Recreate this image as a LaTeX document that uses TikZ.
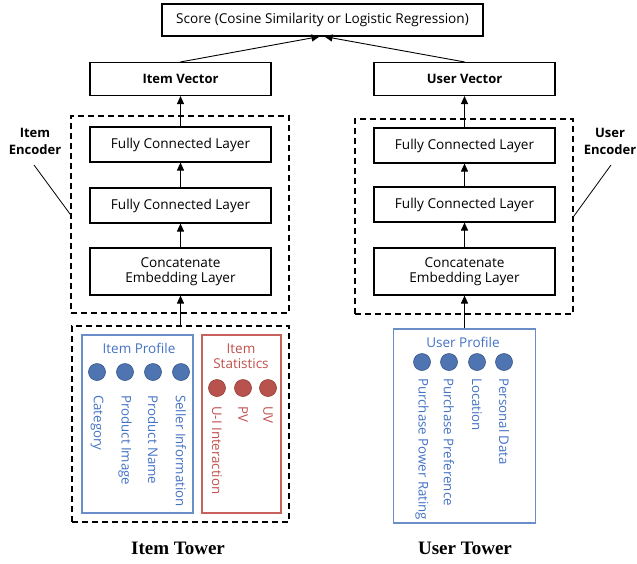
\documentclass[tikz,border=0pt]{standalone}
\usepackage{fontspec}
\setmainfont{Open Sans}
\newfontfamily\towerfont{Liberation Serif}
\usetikzlibrary{arrows.meta}
\definecolor{bluetxt}{RGB}{68,114,196}
\definecolor{blueline}{RGB}{108,142,200}
\definecolor{bluefill}{RGB}{79,116,178}
\definecolor{bluedark}{RGB}{55,85,135}
\definecolor{redtxt}{RGB}{192,80,77}
\definecolor{redline}{RGB}{200,96,92}
\definecolor{redfill}{RGB}{184,82,77}
\definecolor{reddark}{RGB}{150,60,55}
\tikzset{
  box/.style={draw=black, line width=1.1pt, fill=white, inner sep=0pt, minimum width=181pt, font=\fontsize{13.6}{15.5}\selectfont, align=center},
  dbox/.style={draw=black, line width=1.2pt, dash pattern=on 6pt off 4pt, inner sep=0pt},
  arr/.style={line width=0.9pt, -{Triangle[length=8pt,width=7pt]}},
  bdot/.style={circle, fill=bluefill, draw=bluedark, line width=0.6pt, minimum size=17pt, inner sep=0pt},
  rdot/.style={circle, fill=redfill, draw=reddark, line width=0.6pt, minimum size=17pt, inner sep=0pt},
  blab/.style={rotate=-90, anchor=west, inner sep=0pt, text=bluetxt, font=\fontsize{13.3}{15}\selectfont},
  rlab/.style={rotate=-90, anchor=west, inner sep=0pt, text=redtxt, font=\fontsize{13.3}{15}\selectfont},
  enclab/.style={align=center, font=\bfseries\fontsize{13}{17}\selectfont, inner sep=0pt},
  towerlab/.style={font=\towerfont\bfseries\fontsize{19}{22}\selectfont, inner sep=0pt}
}
\begin{document}
\begin{tikzpicture}[x=1pt,y=-1pt]
\useasboundingbox (0,0) rectangle (637,563);
% top score
\node[box, minimum width=321pt, minimum height=32pt] (score) at (322.5,20) {Score (Cosine Similarity or Logistic Regression)};
% item column
\node[box, minimum height=33pt, font=\bfseries\fontsize{13}{15.5}\selectfont] (iv) at (180.5,79) {Item Vector};
\node[dbox, minimum width=218pt, minimum height=197pt] (ienc) at (180,214.5) {};
\node[box, minimum height=35pt] (ifc1) at (180.5,144.5) {Fully Connected Layer};
\node[box, minimum height=35pt] (ifc2) at (180.5,205.5) {Fully Connected Layer};
\node[box, minimum height=47pt] (icat) at (180.5,271.5) {Concatenate\\Embedding Layer};
% user column
\node[box, minimum height=33pt, font=\bfseries\fontsize{13}{15.5}\selectfont] (uv) at (464.5,79) {User Vector};
\node[dbox, minimum width=218pt, minimum height=195pt] (uenc) at (464,216.5) {};
\node[box, minimum height=35pt] (ufc1) at (464.5,145.5) {Fully Connected Layer};
\node[box, minimum height=35pt] (ufc2) at (464.5,204.5) {Fully Connected Layer};
\node[box, minimum height=47pt] (ucat) at (464.5,271.5) {Concatenate\\Embedding Layer};
% encoder labels
\node[enclab] (ienclab) at (35,141) {Item\\Encoder};
\node[enclab] (uenclab) at (610,141) {User\\Encoder};
\coordinate (ils) at (34,165);
\coordinate (uls) at (611,165);
\draw[line width=0.8pt] (ils) -- (ienc.west);
\draw[line width=0.8pt] (uls) -- (uenc.east);
% item tower
\node[dbox, minimum width=217pt, minimum height=196pt] (itower) at (180.5,424) {};
\node[draw=blueline, line width=1.2pt, minimum width=111pt, minimum height=178pt, inner sep=0pt] (iprof) at (137.5,424) {};
\node[draw=redline, line width=1.2pt, minimum width=79pt, minimum height=178pt, inner sep=0pt] (istat) at (241.5,424) {};
\node[text=bluetxt, font=\fontsize{13.5}{15}\selectfont, inner sep=0pt] (iproft) at (139,348) {Item Profile};
\node[text=redtxt, font=\fontsize{13.5}{15}\selectfont, inner sep=0pt, align=center] (istatt) at (241,356) {Item\\Statistics};
\node[bdot] (ic1) at (97,372) {};
\node[bdot] (ic2) at (125,372) {};
\node[bdot] (ic3) at (153,372) {};
\node[bdot] (ic4) at (181,372) {};
\node[blab] at (97,395) {Category};
\node[blab] at (125,395) {Product Image};
\node[blab] at (153,395) {Product Name};
\node[blab] at (181,395) {Seller Information};
\node[rdot] (rc1) at (217,388) {};
\node[rdot] (rc2) at (243,388) {};
\node[rdot] (rc3) at (268,388) {};
\node[rlab] at (217,406) {U-I Interaction};
\node[rlab] at (243,406) {PV};
\node[rlab] at (268,406) {UV};
% user profile
\node[draw=blueline, line width=1.2pt, minimum width=142pt, minimum height=194pt, inner sep=0pt] (uprof) at (464.5,426) {};
\node[text=bluetxt, font=\fontsize{13.5}{15}\selectfont, inner sep=0pt] (uproft) at (463,342) {User Profile};
\node[bdot] (uc1) at (422,362) {};
\node[bdot] (uc2) at (449,362) {};
\node[bdot] (uc3) at (477,362) {};
\node[bdot] (uc4) at (504,362) {};
\node[blab] at (422,378) {Purchase Power Rating};
\node[blab] at (449,378) {Purchase Preference};
\node[blab] at (477,378) {Location};
\node[blab] at (504,378) {Personal Data};
% tower labels
\node[towerlab] (itl) at (178,548) {Item Tower};
\node[towerlab] (utl) at (465,548) {User Tower};
% arrows
\draw[arr] (ifc1.north) -- (iv.south);
\draw[arr] (ifc2.north) -- (ifc1.south);
\draw[arr] (icat.north) -- (ifc2.south);
\draw[arr] (itower.north) -- (icat.south);
\draw[arr] (ufc1.north) -- (uv.south);
\draw[arr] (ufc2.north) -- (ufc1.south);
\draw[arr] (ucat.north) -- (ufc2.south);
\draw[arr] (uprof.north) -- (ucat.south);
\draw[arr] (iv.north) -- ([xshift=-3pt]score.south);
\draw[arr] (uv.north) -- ([xshift=2pt]score.south);
\end{tikzpicture}
\end{document}
